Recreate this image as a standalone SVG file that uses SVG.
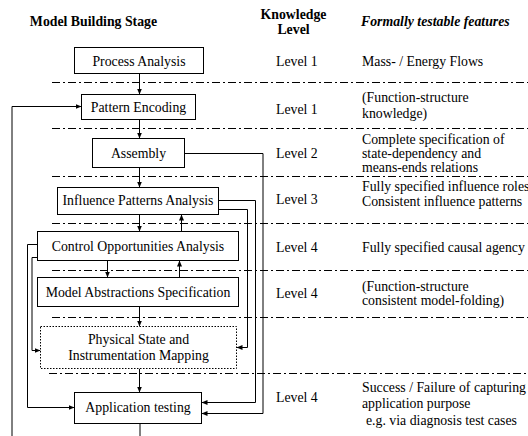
<svg xmlns="http://www.w3.org/2000/svg" width="528" height="436" viewBox="0 0 528 436" font-family="'Liberation Serif', 'Times New Roman', 'DejaVu Serif', serif" font-size="13.8">
<style>
.h{font-weight:bold}
.hi{font-weight:bold;font-style:italic}
.c{text-anchor:middle}
.box{fill:#fff;stroke:#000;stroke-width:1}
.dot{fill:#fff;stroke:#000;stroke-width:1;stroke-dasharray:1.5 1.5}
.sep{stroke:#000;stroke-width:1;stroke-dasharray:8 3 2 3;fill:none}
.cn{fill:none;stroke:#000;stroke-width:1;marker-end:url(#ah)}
</style>
<defs>
<marker id="ah" markerUnits="userSpaceOnUse" markerWidth="7" markerHeight="6" refX="6" refY="3" orient="auto">
<path d="M0,0.5 L6,3 L0,5.5 z" fill="#000"/>
</marker>
</defs>
<rect width="528" height="436" fill="#fff"/>
<g id="headers">
<text class="h c" x="93.5" y="26">Model Building Stage</text>
<text class="h c" x="293.5" y="19">Knowledge</text>
<text class="h c" x="293.5" y="34">Level</text>
<text class="hi" x="361" y="26">Formally testable features</text>
</g>
<g id="separators">
<line class="sep" x1="52" y1="82.5" x2="528" y2="82.5"/>
<line class="sep" x1="52" y1="128.5" x2="528" y2="128.5"/>
<line class="sep" x1="52" y1="176.5" x2="528" y2="176.5"/>
<line class="sep" x1="52" y1="223.5" x2="528" y2="223.5"/>
<line class="sep" x1="52" y1="270.5" x2="528" y2="270.5"/>
<line class="sep" x1="52" y1="317.5" x2="528" y2="317.5"/>
<line class="sep" x1="49" y1="373.5" x2="528" y2="373.5"/>
</g>
<g id="connectors">
<path class="cn" d="M139.5,73.5 V94.5"/>
<path class="cn" d="M139.5,119.5 V138.5"/>
<path class="cn" d="M139.5,167.5 V187.5"/>
<path class="cn" d="M139.5,214.5 V231.5"/>
<path class="cn" d="M181.5,231.5 V214.5"/>
<path class="cn" d="M107.5,260.5 V277.5"/>
<path class="cn" d="M179.5,277.5 V260.5"/>
<path class="cn" d="M139.5,306.5 V326.5"/>
<path class="cn" d="M139.5,368.5 V392.5"/>
<path class="cn" d="M184.5,153.5 H263 V413.5 H201.5"/>
<path class="cn" d="M218.5,200.5 H255.5 V402.5 H201.5"/>
<path class="cn" d="M218.5,209.5 H247.5 V347.5 H236.5"/>
<path class="cn" d="M37.5,244.5 H27.5 V407.5 H74.5"/>
<path class="cn" d="M37.5,257.5 H32 V350.5 H40.5"/>
<path class="cn" d="M140,423.5 V446 H12 V106.5 H81.5"/>
</g>
<g id="process-analysis">
<rect class="box" x="74.5" y="47.5" width="129" height="26"/>
<text class="c" x="139" y="65.5">Process Analysis</text>
</g>
<g id="pattern-encoding">
<rect class="box" x="81.5" y="94.5" width="114" height="25"/>
<text class="c" x="138.5" y="111.5">Pattern Encoding</text>
</g>
<g id="assembly">
<rect class="box" x="92.5" y="138.5" width="92" height="29"/>
<text class="c" x="138.5" y="157.5">Assembly</text>
</g>
<g id="influence-patterns-analysis">
<rect class="box" x="57.5" y="187.5" width="161" height="27"/>
<text class="c" x="138" y="205">Influence Patterns Analysis</text>
</g>
<g id="control-opportunities-analysis">
<rect class="box" x="37.5" y="231.5" width="201" height="29"/>
<text class="c" x="138" y="250.5">Control Opportunities Analysis</text>
</g>
<g id="model-abstractions-specification">
<rect class="box" x="37.5" y="277.5" width="201" height="29"/>
<text class="c" x="138" y="296.5">Model Abstractions Specification</text>
</g>
<g id="physical-state-mapping">
<rect class="dot" x="40.5" y="326.5" width="196" height="42"/>
<text class="c" x="138.5" y="343.5">Physical State and</text>
<text class="c" x="138.5" y="359.5">Instrumentation Mapping</text>
</g>
<g id="application-testing">
<rect class="box" x="74.5" y="392.5" width="127" height="31"/>
<text class="c" x="138" y="412">Application testing</text>
</g>
<g id="levels">
<text x="276" y="65.5">Level 1</text>
<text x="276" y="114">Level 1</text>
<text x="276" y="158">Level 2</text>
<text x="276" y="204">Level 3</text>
<text x="276" y="251.5">Level 4</text>
<text x="276" y="298">Level 4</text>
<text x="276" y="402">Level 4</text>
</g>
<g id="features">
<text x="362" y="65.5">Mass- / Energy Flows</text>
<text x="362" y="101.5">(Function-structure</text>
<text x="362" y="117.5">knowledge)</text>
<text x="362" y="144">Complete specification of</text>
<text x="362" y="158">state-dependency and</text>
<text x="362" y="172">means-ends relations</text>
<text x="362" y="191">Fully specified influence roles</text>
<text x="362" y="205.5">Consistent influence patterns</text>
<text x="362" y="251.5">Fully specified causal agency</text>
<text x="362" y="291">(Function-structure</text>
<text x="362" y="305">consistent model-folding)</text>
<text x="362" y="391.5">Success / Failure of capturing</text>
<text x="362" y="407.5">application purpose</text>
<text x="366" y="425">e.g. via diagnosis test cases</text>
</g>
</svg>
